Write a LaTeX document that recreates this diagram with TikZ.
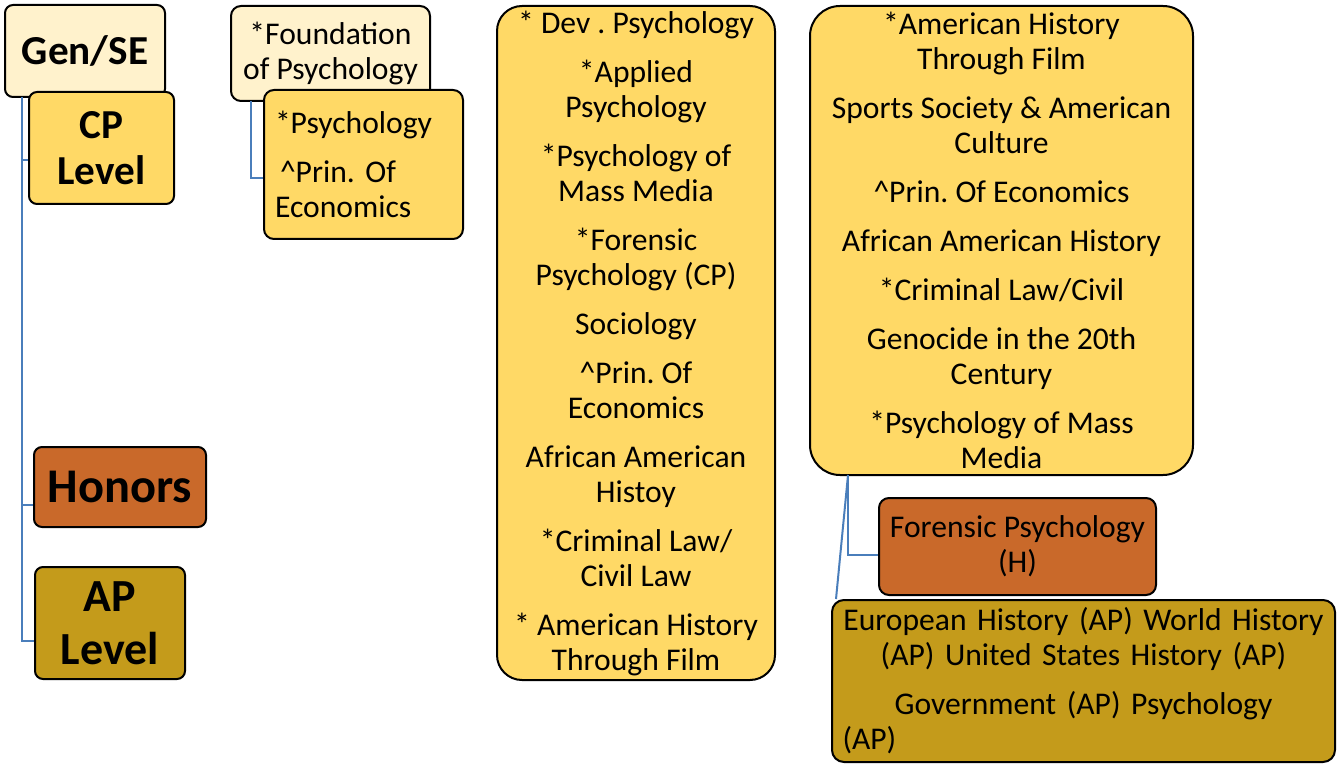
\documentclass[tikz,border=0pt]{standalone}
\usepackage{fontspec}
\setmainfont{Carlito}
\usetikzlibrary{positioning}
\frenchspacing

\definecolor{genfill}{HTML}{FFF2CC}
\definecolor{cpfill}{HTML}{FFD966}
\definecolor{honfill}{HTML}{C9692A}
\definecolor{apfill}{HTML}{C49B1B}
\definecolor{linkblue}{HTML}{4A7EBB}

\begin{document}
\begin{tikzpicture}[x=0.5pt, y=-0.5pt,
                    level/.style={rectangle, draw, line width=1pt, rounded corners=4pt,
                                  align=center, inner sep=0pt,
                                  font=\bfseries\fontsize{20.6}{23}\selectfont},
                    course/.style={rectangle, draw, line width=1pt, rounded corners=5pt,
                                   align=center, inner sep=0pt,
                                   font=\fontsize{15.8}{17.5}\selectfont},
                    link/.style={draw=linkblue, line width=1pt}]
  \useasboundingbox (0, 0) rectangle (1337, 764);

  % Levels.
  \node at (85, 51) [level, fill=genfill, minimum width=80pt, minimum height=46pt,
                     name=GenSE] {Gen/SE};
  \node at (101.5, 148) [level, fill=cpfill, minimum width=72.5pt, minimum height=56pt,
                         name=CPLevel] {CP\\Level};
  \node at (120, 487) [level, fill=honfill, minimum width=86pt, minimum height=40pt,
                       font=\bfseries\fontsize{24.2}{26.5}\selectfont, name=Honors] {Honors};
  \node at (110, 623) [level, fill=apfill, minimum width=75pt, minimum height=56pt,
                       font=\bfseries\fontsize{23}{26.5}\selectfont, name=APLevel] {AP\\Level};

  % Courses.
  \node at (330.5, 53.5) [course, fill=genfill, minimum width=99.5pt, minimum height=47.5pt,
                          name=Foundation] {*Foundation\\of Psychology};
  \node at (363.5, 164.5) [course, fill=cpfill, minimum width=99.5pt, minimum height=74.5pt,
                           align=left, text width=88.5pt, inner xsep=5.5pt,
                           name=Psychology]
       {*Psychology\\[7pt]\hspace*{2.5pt}\textasciicircum Prin. Of\\Economics};
  \node at (636, 343) [course, fill=cpfill, rounded corners=12.5pt,
                       minimum width=139pt, minimum height=337pt, name=CPCourses]
       {* Dev . Psychology\\[7pt]
        *Applied\\Psychology\\[7pt]
        *Psychology of\\Mass Media\\[7pt]
        *Forensic\\Psychology (CP)\\[7pt]
        Sociology\\[7pt]
        \textasciicircum Prin. Of\\Economics\\[7pt]
        African American\\Histoy\\[7pt]
        *Criminal Law/\\Civil Law\\[7pt]
        * American History\\Through Film};
  \node at (1001.5, 240.5) [course, fill=cpfill, rounded corners=15pt,
                            minimum width=191.5pt, minimum height=234.5pt, name=CPElectives]
       {*American History\\Through Film\\[7pt]
        Sports Society \& American\\Culture\\[7pt]
        \textasciicircum Prin. Of Economics\\[7pt]
        African American History\\[7pt]
        *Criminal Law/Civil\\[7pt]
        Genocide in the 20th\\Century\\[7pt]
        *Psychology of Mass\\Media};
  \node at (1017.5, 546.5) [course, fill=honfill, minimum width=138.5pt, minimum height=48.5pt,
                            name=Forensic] {Forensic Psychology\\(H)};
  \node at (1083.5, 681) [course, fill=apfill, rounded corners=6pt,
                          minimum width=251.5pt, minimum height=81pt,
                          text width=245pt, inner xsep=3.25pt, name=APCourses]
       {\centering European History (AP) World History\\(AP) United States History (AP)\par
        \vspace{7pt}Government (AP) Psychology\par
        \raggedright\hspace*{2pt}(AP)\par};

  % Branch points.
  \coordinate (levelroot) at (22, 97);
  \coordinate (foundroot) at (251, 101);
  \coordinate (electroot) at (848, 475);

  % Level tree.
  \draw [link] (levelroot) |- ([yshift=-6pt]CPLevel.west);
  \draw [link] (levelroot) |- ([yshift=-9pt]Honors.west);
  \draw [link] (levelroot) |- ([yshift=-9pt]APLevel.west);

  % Course tree.
  \draw [link] (foundroot) |- ([yshift=-7pt]Psychology.west);
  \draw [link] (electroot) |- ([yshift=-4pt]Forensic.west);
  \draw [link] (electroot) to ([xshift=2.5pt]APCourses.north west);
\end{tikzpicture}
\end{document}
